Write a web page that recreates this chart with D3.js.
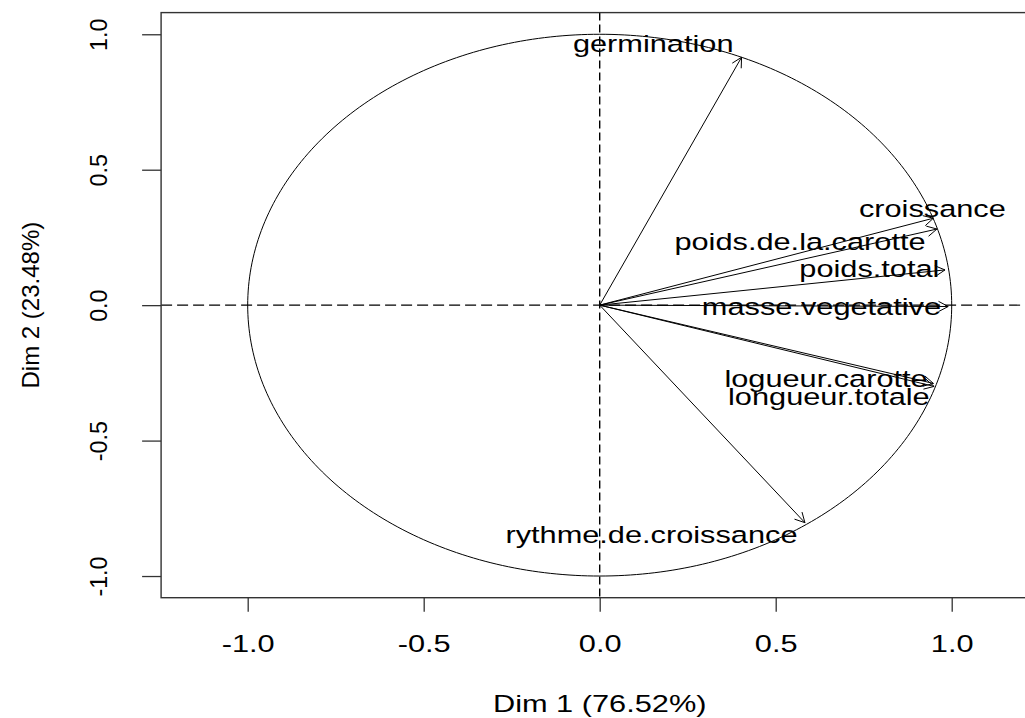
<!DOCTYPE html>
<html>
<head>
<meta charset="utf-8">
<script src="https://cdn.jsdelivr.net/npm/d3@7"></script>
<style>
  html, body { margin: 0; padding: 0; background: #fff; }
  svg { display: block; }
  text { font-family: "Liberation Sans", Arial, sans-serif; fill: #000; }
</style>
</head>
<body>
<svg id="chart" width="1025" height="718"></svg>
<script>
// ---- data ----
const variables = ["germination", "croissance", "poids.de.la.carotte", "poids.total",
                   "masse.vegetative", "logueur.carotte", "longueur.totale", "rythme.de.croissance"];
const dim1 = [0.403, 0.948, 0.958, 0.981, 0.990, 0.948, 0.950, 0.583];
const dim2 = [0.915, 0.321, 0.281, 0.130, -0.005, -0.289, -0.300, -0.803];
// label anchor (centre x, baseline y) in data units
const labelX = [0.152, 0.945, 0.569, 0.766, 0.630, 0.643, 0.651, 0.147];
const labelY = [0.936, 0.325, 0.204, 0.103, -0.036, -0.301, -0.369, -0.879];
const tickValues = [-1.0, -0.5, 0.0, 0.5, 1.0];
const tickLabels = ["-1.0", "-0.5", "0.0", "0.5", "1.0"];
const xTitle = "Dim 1 (76.52%)";
const yTitle = "Dim 2 (23.48%)";

// ---- layout ----
const svg = d3.select("#chart");
const plot = { left: 161.1, right: 1038.3, top: 12.6, bottom: 597.7 };
const x = d3.scaleLinear().domain([-1.246, 1.246]).range([plot.left, plot.right]);
const y = d3.scaleLinear().domain([-1.08, 1.08]).range([plot.bottom, plot.top]);
const SX = 1.32;      // horizontal glyph stretch of the reference
const FS = 23.3;

// dashed reference lines
svg.append("line")
  .attr("x1", plot.left).attr("x2", 1025)
  .attr("y1", y(0)).attr("y2", y(0))
  .attr("stroke", "#000").attr("stroke-width", 1.1)
  .attr("stroke-dasharray", "11,5");
svg.append("line")
  .attr("x1", x(0)).attr("x2", x(0))
  .attr("y1", plot.top).attr("y2", plot.bottom)
  .attr("stroke", "#000").attr("stroke-width", 1.4)
  .attr("stroke-dasharray", "8,4");

// unit circle
const angles = d3.range(0, 361, 1).map(d => d * Math.PI / 180);
svg.append("path")
  .datum(angles)
  .attr("d", d3.line().x(t => x(Math.cos(t))).y(t => y(Math.sin(t))))
  .attr("fill", "none").attr("stroke", "#000").attr("stroke-width", 1);

// arrows
const L = 11, A = 28 * Math.PI / 180;
const g = svg.append("g");
variables.forEach((v, i) => {
  const x0 = x(0), y0 = y(0), x1 = x(dim1[i]), y1 = y(dim2[i]);
  g.append("line").attr("x1", x0).attr("y1", y0).attr("x2", x1).attr("y2", y1)
    .attr("stroke", "#000").attr("stroke-width", 1);
  const ang = Math.atan2(y1 - y0, x1 - x0);
  const p1 = [x1 - L * Math.cos(ang - A), y1 - L * Math.sin(ang - A)];
  const p2 = [x1 - L * Math.cos(ang + A), y1 - L * Math.sin(ang + A)];
  g.append("path")
    .attr("d", `M${p1[0]},${p1[1]}L${x1},${y1}L${p2[0]},${p2[1]}`)
    .attr("fill", "none").attr("stroke", "#000").attr("stroke-width", 1);
});

// labels
variables.forEach((v, i) => {
  svg.append("text")
    .attr("transform", `translate(${x(labelX[i])},${y(labelY[i])}) scale(${SX},1)`)
    .attr("text-anchor", "middle")
    .style("font-size", FS + "px")
    .text(v);
});

// axes
const xAxis = svg.append("g").attr("transform", `translate(0,${plot.bottom})`)
  .call(d3.axisBottom(x).tickValues(tickValues).tickFormat((d, i) => tickLabels[i]).tickSize(14));
xAxis.select(".domain").remove();
xAxis.selectAll(".tick line").attr("stroke", "#333").attr("stroke-width", 1.3);
xAxis.selectAll(".tick text")
  .attr("y", null).attr("dy", null)
  .attr("transform", `translate(0,54) scale(${SX},1)`)
  .attr("text-anchor", "middle")
  .attr("fill", "#000")
  .style("font-size", FS + "px")
  .style("font-family", '"Liberation Sans", Arial, sans-serif');

const yAxis = svg.append("g").attr("transform", `translate(${plot.left},0)`)
  .call(d3.axisLeft(y).tickValues(tickValues).tickFormat((d, i) => tickLabels[i]).tickSize(19));
yAxis.select(".domain").remove();
yAxis.selectAll(".tick line").attr("stroke", "#333").attr("stroke-width", 1.3);
yAxis.selectAll(".tick text")
  .attr("x", null).attr("dy", null)
  .attr("transform", `translate(-54.4,0) rotate(-90)`)
  .attr("text-anchor", "middle")
  .attr("fill", "#000")
  .style("font-size", FS + "px")
  .style("font-family", '"Liberation Sans", Arial, sans-serif');

// plot box
svg.append("rect")
  .attr("x", plot.left).attr("y", plot.top)
  .attr("width", plot.right - plot.left).attr("height", plot.bottom - plot.top)
  .attr("fill", "none").attr("stroke", "#333").attr("stroke-width", 1.4);

// axis titles
svg.append("text")
  .attr("transform", `translate(${x(0)},711.7) scale(${SX},1)`)
  .attr("text-anchor", "middle")
  .style("font-size", FS + "px")
  .text(xTitle);
svg.append("text")
  .attr("transform", `translate(39,${y(0)}) rotate(-90)`)
  .attr("text-anchor", "middle")
  .style("font-size", "24px")
  .text(yTitle);
</script>
</body>
</html>
